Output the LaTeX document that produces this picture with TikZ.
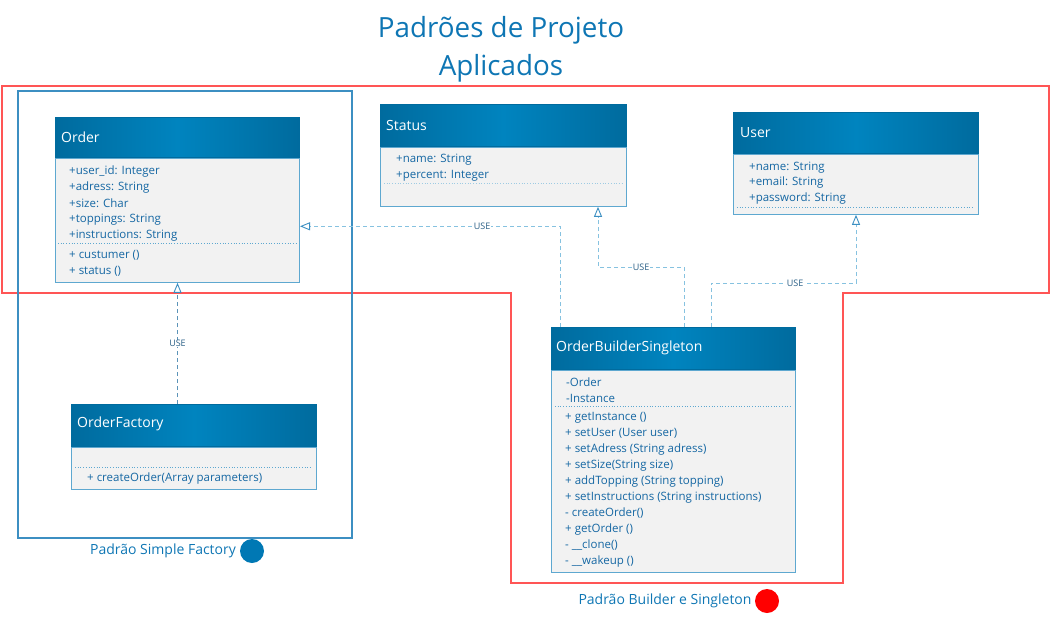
\documentclass[tikz,border=0pt]{standalone}
\usepackage{fontspec}
\setmainfont{Open Sans}
\usetikzlibrary{arrows.meta,calc}
\definecolor{titleblue}{HTML}{0E76B4}
\definecolor{hdrdark}{HTML}{006B9E}
\definecolor{hdrmid}{HTML}{0084BF}
\definecolor{bodyfill}{HTML}{F2F2F2}
\definecolor{bodyline}{HTML}{5EA8D0}
\definecolor{txtblue}{HTML}{1567A3}
\definecolor{dashblue}{HTML}{86C2E0}
\definecolor{darkdash}{HTML}{5B93B8}
\definecolor{redline}{HTML}{FF5555}
\definecolor{boxblue}{HTML}{3C8FC2}
\definecolor{circblue}{HTML}{0078B4}
\definecolor{uselbl}{HTML}{2A5F86}
\tikzset{
  hdr/.style={draw=hdrdark, left color=hdrdark, right color=hdrdark, middle color=hdrmid, anchor=north west, inner sep=0pt, line width=0.8pt},
  cname/.style={anchor=west, text=white, font=\fontsize{14}{16}\selectfont, inner sep=0pt},
  body/.style={draw=bodyline, fill=bodyfill, anchor=north west, inner sep=0pt, line width=1pt},
  attr/.style={anchor=west, text=txtblue, font=\fontsize{11.5}{13}\selectfont, inner sep=0pt, yshift=-1.5pt},
  sep/.style={draw=bodyline, dotted, line width=0.7pt},
  usearrow/.style={draw=dashblue, dash pattern=on 4pt off 3pt, line width=0.9pt, -{Triangle[open, length=10pt, width=8pt, line width=0.9pt, color=boxblue]}},
  factarrow/.style={usearrow, draw=darkdash},
  uselabel/.style={fill=white, inner sep=0.5pt, text=uselbl, font=\fontsize{9}{10}\selectfont},
  grplabel/.style={text=titleblue, font=\fontsize{14}{16}\selectfont, inner sep=0pt},
  title/.style={text=titleblue, font=\fontsize{27.8}{32}\selectfont, inner sep=0pt}
}
\begin{document}
\begin{tikzpicture}[x=1pt,y=-1pt]
\useasboundingbox (0,0) rectangle (1052,618);
% title
\node[title] (t1) at (501,30) {Padrões de Projeto};
\node[title] (t2) at (501,68) {Aplicados};
% group outlines
\draw[redline, line width=1.2pt] (2,86) -- (1049,86) -- (1049,293) -- (843,293) -- (843,583) -- (511,583) -- (511,293) -- (2,293) -- cycle;
\draw[boxblue, line width=1.1pt] (18,91) rectangle (352,538);

% Order
\node[hdr, minimum width=244pt, minimum height=40pt] (orderH) at (55,117) {};
\node[cname] (orderN) at (61,137) {Order};
\node[body, minimum width=244pt, minimum height=124pt] (orderB) at (orderH.south west) {};
\foreach \t [count=\i] in {+user\_id: Integer, +adress: String, +size: Char, +toppings: String, +instructions: String}
  \node[attr] (orderA\i) at (69,{170+16*(\i-1)}) {\t};
\draw[sep] (58,243) -- (296,243);
\foreach \t [count=\i] in {+ custumer (), + status ()}
  \node[attr] (orderM\i) at (69,{254+16*(\i-1)}) {\t};

% Status
\node[hdr, minimum width=246pt, minimum height=42pt] (statusH) at (380,104) {};
\node[cname] (statusN) at (386,125) {Status};
\node[body, minimum width=246pt, minimum height=59pt] (statusB) at (statusH.south west) {};
\foreach \t [count=\i] in {+name: String, +percent: Integer}
  \node[attr] (statusA\i) at (396,{158+16*(\i-1)}) {\t};
\draw[sep, draw=bodyline!60] (384,183) -- (622,183);

% User
\node[hdr, minimum width=245pt, minimum height=41pt] (userH) at (733,112) {};
\node[cname] (userN) at (740,133) {User};
\node[body, minimum width=245pt, minimum height=60pt] (userB) at (userH.south west) {};
\foreach \t [count=\i] in {+name: String, +email: String, +password: String}
  \node[attr] (userA\i) at (749,{166+15.5*(\i-1)}) {\t};
\draw[sep] (737,207) -- (974,207);

% OrderBuilderSingleton
\node[hdr, minimum width=244pt, minimum height=42pt] (obH) at (551,327) {};
\node[cname] (obN) at (556,348) {OrderBuilderSingleton};
\node[body, minimum width=244pt, minimum height=202pt] (obB) at (obH.south west) {};
\foreach \t [count=\i] in {-Order, -Instance}
  \node[attr] (obA\i) at (566,{381+16*(\i-1)}) {\t};
\draw[sep] (555,406) -- (791,406);
\foreach \t [count=\i] in {+ getInstance (), + setUser (User user), + setAdress (String adress), + setSize(String size), + addTopping (String topping), + setInstructions (String instructions), - createOrder(), + getOrder (), - \_\_clone(), - \_\_wakeup ()}
  \node[attr] (obM\i) at (565,{416+16*(\i-1)}) {\t};

% OrderFactory
\node[hdr, minimum width=245pt, minimum height=42pt] (factH) at (71,404) {};
\node[cname] (factN) at (77,424) {OrderFactory};
\node[body, minimum width=245pt, minimum height=42pt] (factB) at (factH.south west) {};
\draw[sep] (75,467) -- (312,467);
\node[attr] (factM1) at (87,477) {+ createOrder(Array parameters)};

% connectors
\draw[factarrow] (orderB.south |- factH.north) -- node[uselabel, pos=0.5] (u0) {USE} (orderB.south);
\draw[usearrow] ([xshift=9pt]obH.north west) |- node[uselabel, pos=0.65] (u1) {USE} ([yshift=-6pt]orderB.east);
\draw[usearrow] ([xshift=133pt]obH.north west) -- ++(0,-60) -| node[uselabel, pos=0.25] (u2) {USE} ([xshift=-29pt]statusB.south east);
\draw[usearrow] ([xshift=160pt]obH.north west) -- ++(0,-44) -| node[uselabel, pos=0.29] (u3) {USE} ([xshift=123pt]userB.south west);

% group labels
\node[grplabel] (g1) at (163,551) {Padrão Simple Factory};
\node[circle, fill=circblue, minimum size=24pt, inner sep=0pt] (c1) at (252,551) {};
\node[grplabel] (g2) at (665,601) {Padrão Builder e Singleton};
\node[circle, fill=red, minimum size=24pt, inner sep=0pt] (c2) at (767,601) {};
\end{tikzpicture}
\end{document}
